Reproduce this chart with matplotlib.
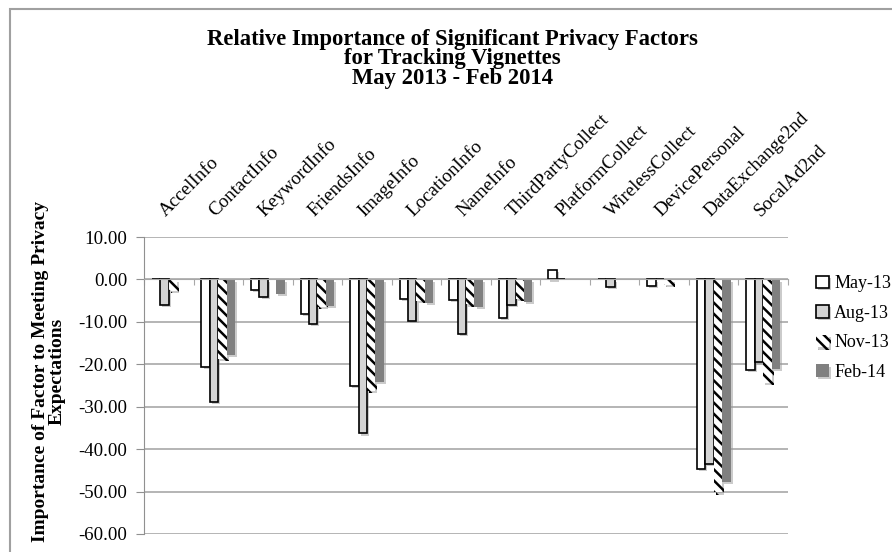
import numpy as np
import matplotlib
matplotlib.use("Agg")
import matplotlib.pyplot as plt
import matplotlib.patheffects as pe
from matplotlib.patches import Rectangle

plt.rcParams['font.family'] = ['Liberation Serif', 'DejaVu Serif']
plt.rcParams['axes.unicode_minus'] = False
plt.rcParams['hatch.linewidth'] = 1.8

factors = ['AccelInfo', 'ContactInfo', 'KeywordInfo', 'FriendsInfo', 'ImageInfo',
           'LocationInfo', 'NameInfo', 'ThirdPartyCollect', 'PlatformCollect',
           'WirelessCollect', 'DevicePersonal', 'DataExchange2nd', 'SocalAd2nd']
periods = ['May-13', 'Aug-13', 'Nov-13', 'Feb-14']

may13 = [0.0, -20.6, -2.5, -8.2, -25.1, -4.5, -4.9, -9.0, 2.2, 0.0, -1.5, -44.7, -21.3]
aug13 = [-6.1, -28.9, -4.1, -10.4, -36.3, -9.8, -12.8, -6.1, 0.0, -1.8, 0.0, -43.5, -19.5]
nov13 = [-2.7, -18.8, 0.0, -6.4, -26.3, -5.1, -5.9, -4.7, 0.0, 0.0, -1.2, -50.2, -24.3]
feb14 = [0.0, -17.9, -3.5, -6.3, -24.2, -5.6, -6.5, -5.3, 0.0, 0.0, 0.0, -47.8, -21.2]
series = [may13, aug13, nov13, feb14]

# fill / edge / hatch per period
styles = [
    dict(facecolor='white', edgecolor='black', linewidth=1.2),
    dict(facecolor='#d4d4d4', edgecolor='black', linewidth=1.2),
    dict(facecolor='white', edgecolor='black', linewidth=0, hatch='\\\\\\'),
    dict(facecolor='#808080', edgecolor='#808080', linewidth=0),
]

fig = plt.figure(figsize=(8.92, 5.52), dpi=100)
ax = fig.add_axes([144 / 892, 18 / 552, 644 / 892, 297 / 552])

x = np.arange(len(factors))
w = 0.17
shadow = [pe.SimplePatchShadow(offset=(1.5, -1.5), shadow_rgbFace='#999999', alpha=0.5), pe.Normal()]
for k, (vals, st) in enumerate(zip(series, styles)):
    bars = ax.bar(x + (k - 1.5) * w, vals, w, label=periods[k], zorder=3, **st)
    for b in bars:
        b.set_path_effects(shadow)

ax.set_xlim(-0.5, len(factors) - 0.5)
ax.set_ylim(-60, 10)
ax.set_yticks(np.arange(-60, 11, 10))
ax.yaxis.set_major_formatter(matplotlib.ticker.FormatStrFormatter('%.2f'))
ax.tick_params(axis='y', labelsize=13.6, length=6, color='#909090', pad=6)
ax.grid(axis='y', color='#a8a8a8', linewidth=1.2, zorder=0)

# category axis sits on zero, ticks between groups
ax.spines['bottom'].set_position(('data', 0))
ax.spines['bottom'].set_color('#a8a8a8')
ax.spines['bottom'].set_zorder(4)
ax.set_xticks(np.arange(-0.5, len(factors), 1))
ax.set_xticklabels([])
ax.tick_params(axis='x', length=4, color='#a8a8a8')
ax.spines['left'].set_color('#909090')
for s in ['top', 'right']:
    ax.spines[s].set_visible(False)

for i, name in enumerate(factors):
    ax.text(i, 1.057, name, transform=ax.get_xaxis_transform(), rotation=45,
            rotation_mode='anchor', ha='left', va='bottom', fontsize=13.7)

fig.text(452 / 892, 1 - 29 / 552,
         'Relative Importance of Significant Privacy Factors\nfor Tracking Vignettes\nMay 2013 - Feb 2014',
         ha='center', va='top', fontsize=16.3, fontweight='bold', linespacing=0.9)

fig.text(49 / 892, 1 - 371 / 552, 'Importance of Factor to Meeting Privacy\nExpectations',
         rotation=90, ha='center', va='center', fontsize=14, fontweight='bold',
         linespacing=0.95)

fig.legend(loc='upper left', bbox_to_anchor=(809 / 892, 1 - 268 / 552), frameon=False,
           fontsize=13, handlelength=0.7, handleheight=0.7, handletextpad=0.3,
           labelspacing=0.7, borderaxespad=0)

# outer chart frame (top and left edges visible)
fig.patches.append(Rectangle((10 / 892, -0.1), 1.2, 0.1 + 1 - 9 / 552, transform=fig.transFigure,
                             fill=False, edgecolor='#a0a0a0', linewidth=1.5))

fig.savefig('out.png', dpi=100)
